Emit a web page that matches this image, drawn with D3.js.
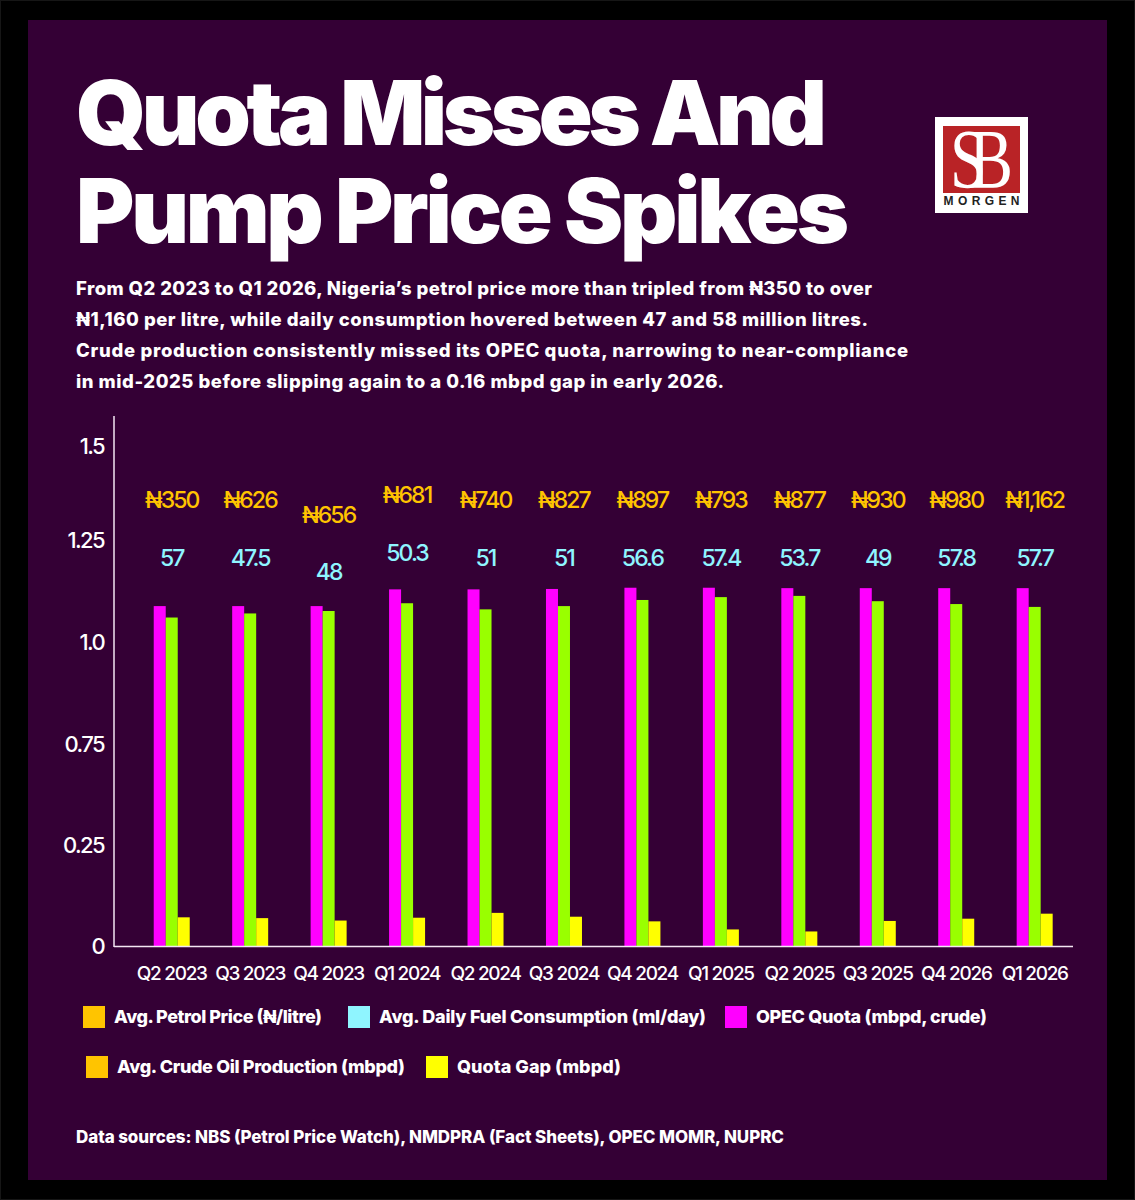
<!DOCTYPE html>
<html>
<head>
<meta charset="utf-8">
<script src="https://cdnjs.cloudflare.com/ajax/libs/d3/7.8.5/d3.min.js"></script>
<style>
  html, body { margin: 0; padding: 0; background: #000; }
  svg { display: block; font-family: "Inter", "Noto Sans", sans-serif; }
</style>
</head>
<body>
<svg id="chart" width="1135" height="1200"></svg>
<script>
var quarters = ["Q2 2023","Q3 2023","Q4 2023","Q1 2024","Q2 2024","Q3 2024","Q4 2024","Q1 2025","Q2 2025","Q3 2025","Q4 2026","Q1 2026"];
var quota = [1.088,1.088,1.088,1.129,1.129,1.13,1.133,1.133,1.132,1.132,1.132,1.132];
var production = [1.06,1.07,1.076,1.095,1.08,1.088,1.103,1.11,1.113,1.10,1.093,1.086];
var gap = [0.071,0.069,0.063,0.07,0.082,0.0725,0.061,0.041,0.036,0.062,0.0676,0.08];
var petrolPrice = ["₦350","₦626","₦656","₦681","₦740","₦827","₦897","₦793","₦877","₦930","₦980","₦1,162"];
var consumption = ["57","47.5","48","50.3","51","51","56.6","57.4","53.7","49","57.8","57.7"];
var yTicks = [0,0.25,0.75,1.0,1.25,1.5];
var yTickLabels = ["0","0.25","0.75","1.0","1.25","1.5"];

var titleLines = ["Quota Misses And","Pump Price Spikes"];
var introLines = [
  "From Q2 2023 to Q1 2026, Nigeria’s petrol price more than tripled from ₦350 to over",
  "₦1,160 per litre, while daily consumption hovered between 47 and 58 million litres.",
  "Crude production consistently missed its OPEC quota, narrowing to near-compliance",
  "in mid-2025 before slipping again to a 0.16 mbpd gap in early 2026."
];

var svg = d3.select("#chart");
svg.append("rect").attr("x",0.5).attr("y",0.5).attr("width",1134).attr("height",1199).attr("fill","none").attr("stroke","#161616");
svg.append("rect").attr("x",28).attr("y",20).attr("width",1079).attr("height",1160).attr("fill","#340035");

// heading
[[145,751],[243,773]].forEach(function (p, i) {
  svg.append("text").attr("x",76).attr("y",p[0]).attr("fill","#fff")
    .attr("font-size",89).attr("font-weight",900)
    .attr("textLength",p[1]).attr("lengthAdjust","spacing")
    .text(titleLines[i]);
});
var introW = [796,792,832,648];
introLines.forEach(function (t, i) {
  svg.append("text").attr("x",76).attr("y",295 + i * 31).attr("fill","#fff")
    .attr("font-size",18.5).attr("font-weight",800)
    .attr("textLength",introW[i]).attr("lengthAdjust","spacing")
    .text(t);
});

// logo
var logo = svg.append("g");
logo.append("rect").attr("x",935).attr("y",117).attr("width",93).attr("height",96).attr("fill","#fff");
logo.append("rect").attr("x",943).attr("y",126).attr("width",77).attr("height",67).attr("fill","#b92326");
logo.append("text").attr("transform","translate(950,188) scale(0.78,1)").attr("fill","#fff")
  .attr("font-family","Liberation Serif").attr("font-size",84).attr("letter-spacing",-22).text("SB");
logo.append("text").attr("x",943.5).attr("y",204.5).attr("fill","#222")
  .attr("font-family","Liberation Sans").attr("font-weight",700).attr("font-size",12)
  .attr("textLength",76).text("MORGEN");

// scales: the printed tick labels skip 0.5, so the axis is read piecewise
var x = d3.scaleBand().domain(quarters).range([132.5,1073.9]);
var y = d3.scaleLinear().domain(yTicks).range([946,845,744,642,540,446]);
var barW = 12;

var seriesList = [
  { vals: quota, col: "#ff00ff", off: -1.5 },
  { vals: production, col: "#99ff00", off: -0.5 },
  { vals: gap, col: "#ffff00", off: 0.5 }
];
seriesList.forEach(function (s) {
  svg.append("g").selectAll("rect").data(quarters).join("rect")
    .attr("x", function (d) { return x(d) + x.bandwidth() / 2 + s.off * barW; })
    .attr("width", barW)
    .attr("y", function (d, i) { return y(s.vals[i]); })
    .attr("height", function (d, i) { return y(0) - y(s.vals[i]); })
    .attr("fill", s.col);
});

// axes
var axX = d3.axisBottom(x).tickSize(0).tickPadding(20);
var gx = svg.append("g").attr("transform","translate(0,946.5)").call(axX);
gx.select(".domain").remove();
svg.append("line").attr("x1",114).attr("x2",1073).attr("y1",946.5).attr("y2",946.5).attr("stroke","#f3e6f3").attr("stroke-width",1.5);
svg.append("line").attr("x1",114).attr("x2",114).attr("y1",416).attr("y2",947).attr("stroke","#f3e6f3").attr("stroke-width",1.5);
gx.selectAll("text").attr("fill","#fff").attr("font-size",19).attr("font-family","Inter").attr("font-weight",500).attr("letter-spacing",-1.3);

var axY = d3.axisLeft(y).tickValues(yTicks).tickSize(0).tickPadding(10)
  .tickFormat(function (d, i) { return yTickLabels[i]; });
var gy = svg.append("g").attr("transform","translate(114,0)").call(axY);
gy.select(".domain").remove();
gy.selectAll("text").attr("fill","#fff").attr("font-size",22).attr("font-family","Inter").attr("font-weight",500).attr("letter-spacing",-1.6);

// value labels, a few nudged as in the original layout
var priceNudge = { "Q4 2023": 15, "Q1 2024": -5 };
var consNudge = { "Q4 2023": 14, "Q1 2024": -5 };
svg.append("g").selectAll("text").data(quarters).join("text")
  .attr("x", function (d) { return x(d) + x.bandwidth() / 2; })
  .attr("y", function (d) { return 508 + (priceNudge[d] || 0); })
  .attr("text-anchor","middle").attr("fill","#ffc400").attr("font-size",23).attr("font-weight",500).attr("letter-spacing",-1.9)
  .text(function (d, i) { return petrolPrice[i]; });
svg.append("g").selectAll("text").data(quarters).join("text")
  .attr("x", function (d) { return x(d) + x.bandwidth() / 2; })
  .attr("y", function (d) { return 566 + (consNudge[d] || 0); })
  .attr("text-anchor","middle").attr("fill","#8ff5ff").attr("font-size",23).attr("font-weight",500).attr("letter-spacing",-1.9)
  .text(function (d, i) { return consumption[i]; });

// legend
var legendItems = [
  { t: "Avg. Petrol Price (₦/litre)", c: "#ffc400", bx: 83, by: 1006, w: 208 },
  { t: "Avg. Daily Fuel Consumption (ml/day)", c: "#8ff5ff", bx: 348, by: 1006, w: 327 },
  { t: "OPEC Quota (mbpd, crude)", c: "#ff00ff", bx: 725, by: 1006, w: 231 },
  { t: "Avg. Crude Oil Production (mbpd)", c: "#ffc400", bx: 86, by: 1056, w: 288 },
  { t: "Quota Gap (mbpd)", c: "#ffff00", bx: 426, by: 1056, w: 164 }
];
var lg = svg.append("g").selectAll("g").data(legendItems).join("g");
lg.append("rect").attr("x", function (d) { return d.bx; }).attr("y", function (d) { return d.by; })
  .attr("width",22).attr("height",22).attr("fill", function (d) { return d.c; });
lg.append("text").attr("x", function (d) { return d.bx + 31; }).attr("y", function (d) { return d.by + 17; })
  .attr("fill","#fff").attr("font-size",18).attr("font-weight",800)
  .attr("textLength", function (d) { return d.w; }).attr("lengthAdjust","spacing")
  .text(function (d) { return d.t; });

svg.append("text").attr("x",76).attr("y",1143).attr("fill","#fff").attr("font-size",17).attr("font-weight",800)
  .attr("textLength",708).attr("lengthAdjust","spacing")
  .text("Data sources: NBS (Petrol Price Watch), NMDPRA (Fact Sheets), OPEC MOMR, NUPRC");
</script>
</body>
</html>
